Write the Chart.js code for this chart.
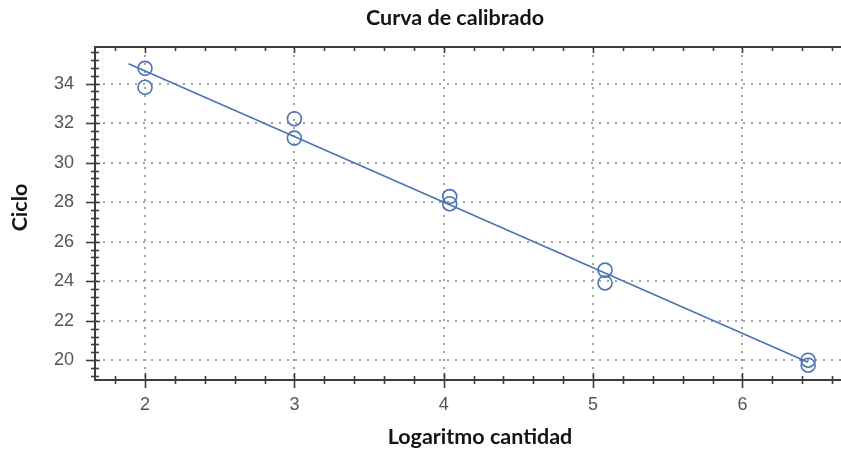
<!DOCTYPE html>
<html>
<head>
<meta charset="utf-8">
<script src="https://cdn.jsdelivr.net/npm/chart.js@4.4.0/dist/chart.umd.min.js"></script>
<style>
  html, body { margin: 0; padding: 0; background: #ffffff; overflow: hidden; }
  #wrap { width: 841px; height: 450px; }
</style>
</head>
<body>
<div id="wrap"><canvas id="chart" width="841" height="450"></canvas></div>
<script>
// Calibration data: log of quantity vs. cycle threshold (duplicates per standard)
const logQty = [2, 2, 3, 3, 4.04, 4.04, 5.08, 5.08, 6.44, 6.44];
const cycle  = [34.77, 33.81, 32.22, 31.24, 28.28, 27.92, 24.56, 23.91, 20.0, 19.75];

// Fitted calibration line (end points)
const fitX = [1.89, 6.44];
const fitY = [35.0, 19.9];

// Axis tick values
const xTicks = [2, 3, 4, 5, 6];
const yTicks = [20, 22, 24, 26, 28, 30, 32, 34];

const chartTitle = 'Curva de calibrado';
const xTitle = 'Logaritmo cantidad';
const yTitle = 'Ciclo';

const markColor = '#4a74b4';
const axisColor = '#3c3c3c';
const gridColor = '#a3a3a3';
const titleFont = 'bold 21.5px Lato, "Liberation Sans", sans-serif';

// Dotted grid at the major ticks
const dottedGrid = {
  id: 'dottedGrid',
  beforeDatasetsDraw(chart) {
    const { ctx, chartArea: a, scales: { x, y } } = chart;
    ctx.save();
    ctx.strokeStyle = gridColor;
    ctx.lineWidth = 2;
    ctx.setLineDash([2, 6]);
    xTicks.forEach(v => {
      const px = Math.round(x.getPixelForValue(v));
      ctx.beginPath(); ctx.moveTo(px, a.top); ctx.lineTo(px, a.bottom); ctx.stroke();
    });
    yTicks.forEach(v => {
      const py = Math.round(y.getPixelForValue(v));
      ctx.beginPath(); ctx.moveTo(a.left, py); ctx.lineTo(a.right, py); ctx.stroke();
    });
    ctx.restore();
  }
};

// Axis frame (left, bottom, top) with crossing major and minor tick marks, plus titles
const axisFrame = {
  id: 'axisFrame',
  afterDraw(chart) {
    const { ctx, chartArea: a, scales: { x, y } } = chart;
    ctx.save();
    ctx.strokeStyle = axisColor;
    ctx.lineWidth = 2;
    ctx.setLineDash([]);
    const L = a.left, B = Math.round(a.bottom), T = Math.round(a.top), R = a.right;
    ctx.beginPath();
    ctx.moveTo(R, T); ctx.lineTo(L, T); ctx.lineTo(L, B); ctx.lineTo(R, B);
    ctx.stroke();

    ctx.lineWidth = 1.6;
    // x ticks every 0.2
    for (let k = Math.ceil(x.min * 5); k <= Math.floor(x.max * 5); k++) {
      const px = Math.round(x.getPixelForValue(k / 5)) + 0.5;
      const major = k % 5 === 0;
      ctx.beginPath();
      ctx.moveTo(px, B - (major ? 7 : 4)); ctx.lineTo(px, B + (major ? 8 : 4));
      ctx.moveTo(px, T); ctx.lineTo(px, T + (major ? 6 : 4));
      ctx.stroke();
    }
    // y ticks every 0.4
    for (let k = Math.ceil(y.min / 0.4); k <= Math.floor(y.max / 0.4); k++) {
      const py = Math.round(y.getPixelForValue(k * 0.4)) + 0.5;
      const major = k % 5 === 0;
      ctx.beginPath();
      ctx.moveTo(L - (major ? 9 : 4), py); ctx.lineTo(L + (major ? 5 : 4), py);
      ctx.stroke();
    }

    // titles
    ctx.fillStyle = '#141414';
    ctx.font = titleFont;
    ctx.textAlign = 'center';
    ctx.textBaseline = 'middle';
    ctx.fillText(chartTitle, 455, 18);
    ctx.fillText(xTitle, 480, 437);
    ctx.translate(20, (T + B) / 2 - 6);
    ctx.rotate(-Math.PI / 2);
    ctx.fillText(yTitle, 0, 0);
    ctx.restore();
  }
};

new Chart(document.getElementById('chart'), {
  type: 'scatter',
  data: {
    datasets: [
      {
        label: 'Patrones',
        data: logQty.map((v, i) => ({ x: v, y: cycle[i] })),
        pointStyle: 'circle',
        pointRadius: 7,
        pointHoverRadius: 7,
        pointBorderWidth: 1.6,
        borderColor: markColor,
        backgroundColor: 'rgba(0,0,0,0)',
        showLine: false,
        order: 1
      },
      {
        label: 'Ajuste',
        type: 'line',
        data: fitX.map((v, i) => ({ x: v, y: fitY[i] })),
        borderColor: markColor,
        borderWidth: 1.6,
        pointRadius: 0,
        fill: false,
        order: 2
      }
    ]
  },
  options: {
    responsive: false,
    animation: false,
    devicePixelRatio: 1,
    layout: { autoPadding: false, padding: { left: 0, right: 0, top: 47, bottom: 0 } },
    plugins: {
      legend: { display: false },
      title: { display: false },
      tooltip: { enabled: false }
    },
    scales: {
      x: {
        type: 'linear',
        min: 1.665,
        max: 6.66,
        grid: { display: false, drawTicks: false },
        border: { display: false },
        afterBuildTicks: s => { s.ticks = xTicks.map(v => ({ value: v })); },
        afterFit: s => { s.height = 70; s.paddingLeft = 0; s.paddingRight = 0; },
        ticks: { color: '#555555', font: { family: '"Liberation Sans", Arial, sans-serif', size: 18 }, padding: 14 }
      },
      y: {
        type: 'linear',
        min: 19,
        max: 35.85,
        grid: { display: false, drawTicks: false },
        border: { display: false },
        afterBuildTicks: s => { s.ticks = yTicks.map(v => ({ value: v })); },
        afterFit: s => { s.width = 95; s.paddingTop = 0; s.paddingBottom = 0; },
        ticks: { color: '#555555', font: { family: '"Liberation Sans", Arial, sans-serif', size: 18 }, padding: 21 }
      }
    }
  },
  plugins: [dottedGrid, axisFrame]
});
</script>
</body>
</html>
